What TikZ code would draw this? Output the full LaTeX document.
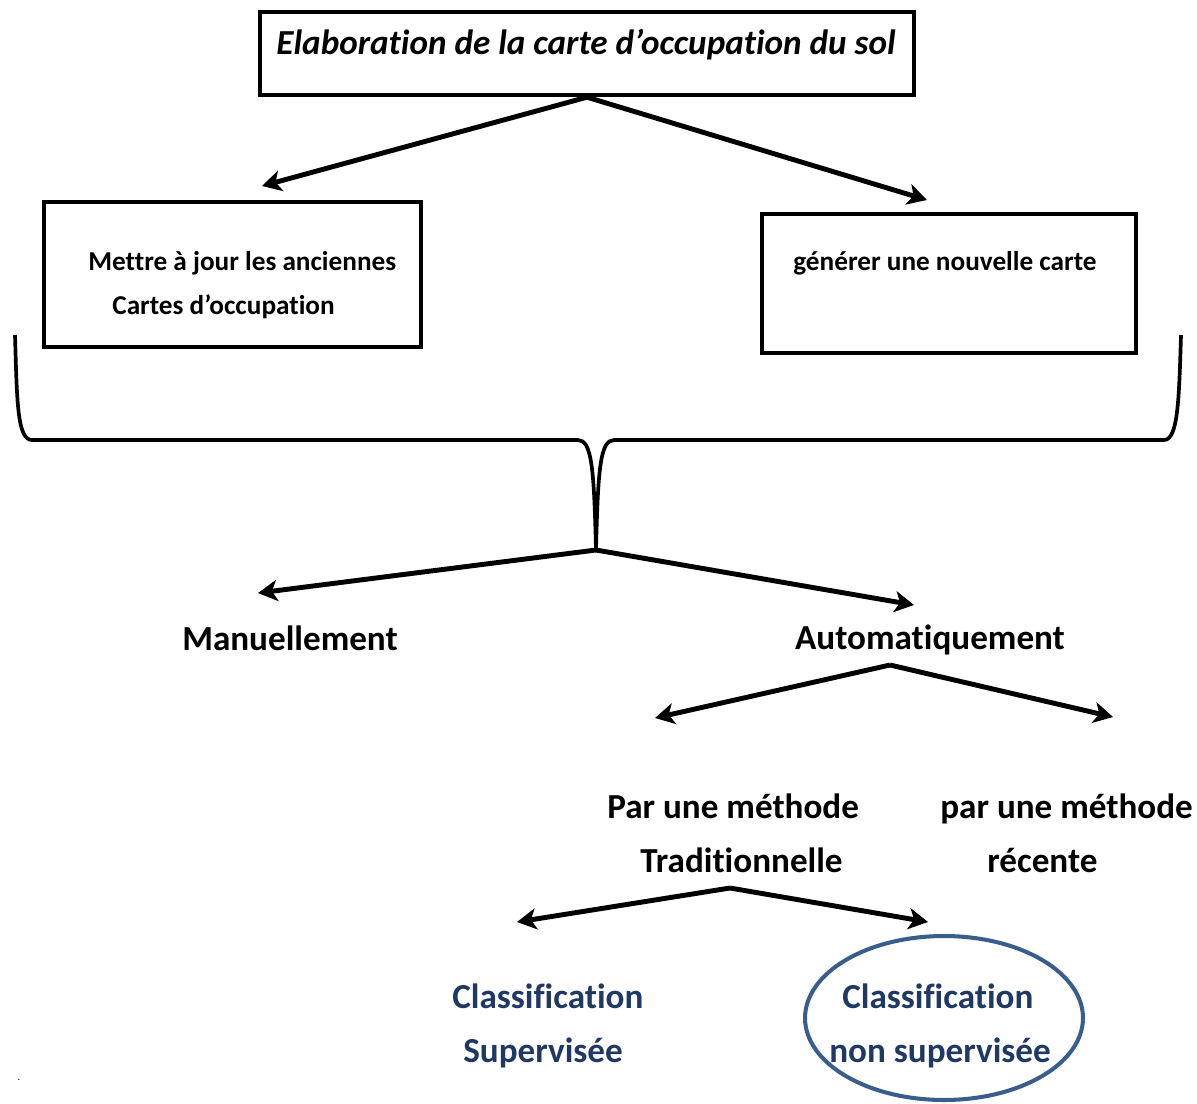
\documentclass[tikz,border=0pt]{standalone}
\usepackage{fontspec}
\setmainfont{Carlito}[Ligatures=NoCommon]
\usetikzlibrary{arrows.meta,shapes.geometric}
\definecolor{navy}{RGB}{31,56,100}
\definecolor{ringblue}{RGB}{58,94,140}
\begin{document}
\begin{tikzpicture}[x=0.02cm,y=-0.02cm,
  box/.style={draw,line width=2.5pt,inner sep=0pt},
  arr/.style={line width=2.8pt,-{Stealth[length=11pt,width=12pt,inset=3pt]}},
  big/.style={font=\fontsize{20}{30.6}\selectfont\bfseries,align=left,inner sep=0pt},
  small/.style={font=\fontsize{15.5}{25}\selectfont\bfseries,align=left,inner sep=0pt},
  bluetxt/.style={big,text=navy},
  brace/.style={line width=2.1pt,line join=round}
]
\useasboundingbox (0,0) rectangle (1197,1103);

% boxes
\node[box,minimum width=13.08cm,minimum height=1.66cm] (title) at (587,53.5) {};
\node[font=\fontsize{20}{24}\selectfont\bfseries\itshape,inner sep=0pt] (titletxt) at (586,45) {Elaboration de la carte d’occupation du sol};
\node[box,minimum width=7.54cm,minimum height=2.9cm] (left) at (232.5,274.5) {};
\node[small,anchor=west] (lefttxt) at (88,285) {Mettre à jour les anciennes\\\hspace*{0.48cm}Cartes d’occupation};
\node[box,minimum width=7.48cm,minimum height=2.78cm] (right) at (949,283.5) {};
\node[small,anchor=west] (righttxt) at (793,263) {générer une nouvelle carte};

% arrows from title
\coordinate (tL) at (262,186);
\coordinate (tR) at (927,200);
\draw[arr] (title.south) -- (tL);
\draw[arr] (title.south) -- (tR);

% brace
\coordinate (bleft) at (15,335);
\coordinate (bright) at (1181,335);
\coordinate (btip) at (596,550);
\draw[brace] (bleft) .. controls (17,400) and (17,440) .. (32,440) -- (578,440)
  .. controls (592,440) and (594,470) .. (btip)
  .. controls (598,470) and (600,440) .. (614,440) -- (1164,440)
  .. controls (1178,440) and (1179,400) .. (bright);

% second level
\coordinate (mL) at (258,593);
\coordinate (mR) at (914,605);
\draw[arr] (btip) -- (mL);
\draw[arr] (btip) -- (mR);
\node[big] (manu) at (290,638) {Manuellement};
\node[big] (auto) at (930,640) {Automatiquement};

% third level
\coordinate (aF) at (890,665);
\coordinate (aL) at (655,718);
\coordinate (aR) at (1113,717);
\draw[arr] (aF) -- (aL);
\draw[arr] (aF) -- (aR);
\node[big,anchor=west] (trad) at (607,833) {Par une méthode\\\hspace*{0.66cm}Traditionnelle};
\node[big,anchor=west] (recent) at (940,833) {par une méthode\\\hspace*{0.94cm}récente};

% fourth level
\coordinate (pF) at (730,888);
\coordinate (pL) at (517,922);
\coordinate (pR) at (928,922);
\draw[arr] (pF) -- (pL);
\draw[arr] (pF) -- (pR);
\node[bluetxt,anchor=west] (sup) at (452,1026) {Classification\\\hspace*{0.22cm}Supervisée};
\node[bluetxt,anchor=west] (nonsup) at (829,1026) {\hspace*{0.26cm}Classification\\non supervisée};
\node[draw=ringblue,line width=2.3pt,ellipse,minimum width=5.56cm,minimum height=3.28cm] (ring) at (944,1018) {};

\node[font=\fontsize{6}{6}\selectfont,inner sep=0pt] (dot) at (19,1080) {.};
\end{tikzpicture}
\end{document}
